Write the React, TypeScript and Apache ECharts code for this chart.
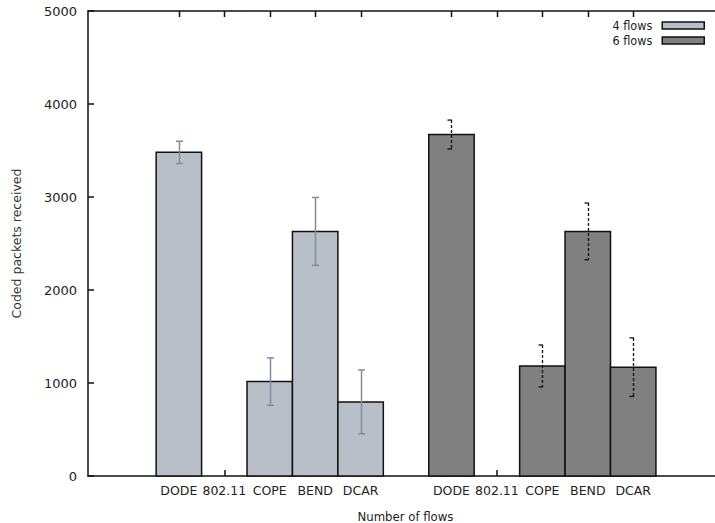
import React, { useEffect, useRef } from "react";
import * as echarts from "echarts";

const categories = ["DODE", "802.11", "COPE", "BEND", "DCAR"];
const groupNames = ["4 flows", "6 flows"];
const values4 = [3480, 0, 1015, 2630, 797];
const err4 = [120, 0, 255, 365, 343];
const values6 = [3672, 0, 1183, 2630, 1170];
const err6 = [155, 0, 226, 305, 315];
const yTicks = [0, 1000, 2000, 3000, 4000, 5000];

const GROUP_OFFSET = 6;
const slots: number[] = [];
categories.forEach((_, i) => slots.push(i));
categories.forEach((_, i) => slots.push(i + GROUP_OFFSET));
const labelFor = (v: number): string => {
  const r = Math.round(v);
  if (r >= 0 && r < categories.length) return categories[r];
  if (r >= GROUP_OFFSET && r < GROUP_OFFSET + categories.length) return categories[r - GROUP_OFFSET];
  return "";
};

const fill4 = "#b9bfc7";
const fill6 = "#808080";
const err4Color = "#7d8d9c";

function makeRender(fill: string, errStyle: "solid" | "dashed") {
  return (params: any, api: any) => {
    const x = api.value(0);
    const v = api.value(1);
    const e = api.value(2);
    if (!v) return { type: "group", children: [] };
    const w = api.size([1, 0])[0];
    const top = api.coord([x, v]);
    const base = api.coord([x, 0]);
    const hi = api.coord([x, v + e]);
    const lo = api.coord([x, v - e]);
    const children: any[] = [
      {
        type: "rect",
        shape: { x: top[0] - w / 2, y: top[1], width: w, height: base[1] - top[1] },
        style: { fill, stroke: "#111", lineWidth: 1.5 },
      },
    ];
    const cx = Math.round(top[0]) + 0.5;
    if (errStyle === "solid") {
      const st = { stroke: err4Color, lineWidth: 1.5 };
      children.push(
        { type: "line", shape: { x1: cx, y1: hi[1], x2: cx, y2: lo[1] }, style: st },
        { type: "line", shape: { x1: cx - 3.5, y1: hi[1], x2: cx + 3.5, y2: hi[1] }, style: st },
        { type: "line", shape: { x1: cx - 3.5, y1: lo[1], x2: cx + 3.5, y2: lo[1] }, style: st }
      );
    } else {
      const st = { stroke: "#111", lineWidth: 1.3, lineDash: [3, 2] };
      const cap = { stroke: "#111", lineWidth: 1.3 };
      children.push(
        { type: "line", shape: { x1: cx, y1: hi[1], x2: cx, y2: lo[1] }, style: st },
        { type: "line", shape: { x1: cx - 4, y1: hi[1], x2: cx + 0.5, y2: hi[1] }, style: cap },
        { type: "line", shape: { x1: cx - 4, y1: lo[1], x2: cx + 0.5, y2: lo[1] }, style: cap }
      );
    }
    return { type: "group", children };
  };
}

// mirrored tick marks along the top border, placed through the axis scale
const renderTopTick = (params: any, api: any) => {
  const p = api.coord([api.value(0), api.value(1)]);
  const x = Math.round(p[0]) + 0.5;
  return {
    type: "rect",
    shape: { x: x - 0.75, y: p[1], width: 1.5, height: 6 },
    style: { fill: "#111" },
  };
};

export default function App() {
  const ref = useRef<HTMLDivElement>(null);
  useEffect(() => {
    if (!ref.current) return;
    const chart = echarts.init(ref.current, null, { renderer: "svg" });
    const yMax = yTicks[yTicks.length - 1];
    const data4 = categories.map((_, i) => [i, values4[i], err4[i]]);
    const data6 = categories.map((_, i) => [i + GROUP_OFFSET, values6[i], err6[i]]);
    const font = "DejaVu Sans";
    const cond = "DejaVu Sans Condensed";
    const axisLine = { onZero: false, lineStyle: { color: "#111", width: 1.5 } };
    chart.setOption({
      animation: false,
      backgroundColor: "#fff",
      grid: { left: 88, top: 11, bottom: 47, right: 0, outerBoundsMode: "none", containLabel: false },
      legend: {
        right: 10,
        top: 19,
        padding: 0,
        orient: "vertical",
        align: "right",
        itemWidth: 42,
        itemHeight: 7,
        itemGap: 2,
        textStyle: { fontFamily: cond, fontSize: 12.5, color: "#222", padding: [0, 5, 0, 0] },
        data: [
          { name: groupNames[0], icon: "rect", itemStyle: { color: fill4, borderColor: "#111", borderWidth: 1.5 } },
          { name: groupNames[1], icon: "rect", itemStyle: { color: fill6, borderColor: "#111", borderWidth: 1.5 } },
        ],
      },
      xAxis: [
        {
          type: "value",
          min: -2,
          max: 11.8,
          position: "bottom",
          name: "Number of flows",
          nameLocation: "middle",
          nameGap: 34,
          nameTextStyle: { fontFamily: cond, fontSize: 13, color: "#222", padding: [0, 0, 0, 8] },
          axisLine,
          splitLine: { show: false },
          axisTick: { show: true, inside: true, length: 6, customValues: slots, lineStyle: { color: "#111", width: 1.5 } },
          axisLabel: {
            customValues: slots,
            formatter: (v: number) => labelFor(v),
            fontFamily: font,
            fontSize: 12.5,
            color: "#222",
            margin: 8,
          },
        },
        {
          type: "value",
          min: -2,
          max: 11.8,
          position: "top",
          axisLine,
          splitLine: { show: false },
          axisTick: { show: false },
          axisLabel: { show: false },
        },
      ],
      yAxis: {
        type: "value",
        min: yTicks[0],
        max: yMax,
        interval: 1000,
        name: "Coded packets received",
        nameLocation: "middle",
        nameGap: 65,
        nameTextStyle: { fontFamily: font, fontSize: 12.5, color: "#333" },
        axisLine: { show: true, onZero: false, lineStyle: { color: "#111", width: 1.5 } },
        splitLine: { show: false },
        axisTick: { show: true, inside: true, length: 6, lineStyle: { color: "#111", width: 1.5 } },
        axisLabel: { fontFamily: font, fontSize: 13, color: "#222", margin: 11, formatter: (v: number) => String(v) },
      },
      series: [
        {
          name: groupNames[0],
          type: "custom",
          xAxisIndex: 0,
          renderItem: makeRender(fill4, "solid"),
          encode: { x: 0, y: [1, 2] },
          data: data4,
          itemStyle: { color: fill4 },
        },
        {
          name: groupNames[1],
          type: "custom",
          xAxisIndex: 0,
          renderItem: makeRender(fill6, "dashed"),
          encode: { x: 0, y: [1, 2] },
          data: data6,
          itemStyle: { color: fill6 },
        },
        {
          name: "topTicks",
          type: "custom",
          xAxisIndex: 0,
          silent: true,
          clip: false,
          z: 10,
          renderItem: renderTopTick,
          encode: { x: 0, y: 1 },
          data: slots.map((s) => [s, yMax]),
        },
      ],
    });
    return () => chart.dispose();
  }, []);
  return <div ref={ref} style={{ width: 715, height: 523, position: "absolute", left: 0, top: 0 }} />;
}
